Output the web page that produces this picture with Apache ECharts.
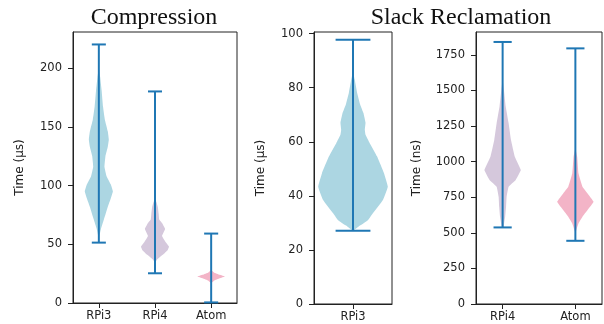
<!DOCTYPE html>
<html>
<head>
<meta charset="utf-8">
<script src="https://cdn.jsdelivr.net/npm/echarts@6/dist/echarts.min.js"></script>
<style>
  html, body { margin: 0; padding: 0; background: #fff; }
  #chart { width: 604px; height: 324px; }
</style>
</head>
<body>
<div id="chart"></div>
<script>
// Compression panel (time in us)
const compCategories = ["RPi3", "RPi4", "Atom"]
const compRanges = [[51.4, 220.1], [25.3, 180.1], [0.5, 59.1]]
const compRPi3Levels = [52, 57, 63, 71, 82, 89, 95, 101, 108, 116, 125, 133, 139, 146, 156, 167, 181, 192, 200]
const compRPi3Density = [0, 0.04, 0.15, 0.36, 0.64, 0.85, 1.0, 0.85, 0.55, 0.4, 0.47, 0.64, 0.71, 0.64, 0.43, 0.3, 0.2, 0.1, 0]
const compRPi4Levels = [34, 37, 41, 45, 48, 52, 57, 63, 68, 71, 76, 82, 86, 89]
const compRPi4Density = [0, 0.15, 0.55, 0.9, 1.0, 0.75, 0.5, 0.72, 0.5, 0.3, 0.26, 0.2, 0.1, 0]
const compAtomLevels = [17, 19, 21, 22.5, 24, 26, 28]
const compAtomDensity = [0, 0.2, 0.6, 1.0, 0.6, 0.2, 0]

// Slack Reclamation, RPi3 (time in us)
const slackUsCategories = ["RPi3"]
const slackUsRanges = [[27.1, 97.7]]
const slackRPi3Levels = [27, 29, 31, 33.6, 38.5, 43.4, 48.4, 54.6, 59.5, 62.6, 64.4, 67, 70.6, 74, 78, 83, 86]
const slackRPi3Density = [0, 0.2, 0.43, 0.57, 0.86, 1.0, 0.89, 0.69, 0.48, 0.36, 0.34, 0.36, 0.3, 0.2, 0.12, 0.05, 0]

// Slack Reclamation, RPi4 / Atom (time in ns)
const slackNsCategories = ["RPi4", "Atom"]
const slackNsRanges = [[538, 1841], [444, 1796]]
const slackRPi4Levels = [540, 566, 613, 683, 753, 824, 871, 941, 1035, 1153, 1270, 1387, 1505, 1580]
const slackRPi4Density = [0.05, 0.08, 0.14, 0.19, 0.22, 0.33, 0.72, 1.0, 0.67, 0.46, 0.33, 0.17, 0.07, 0]
const slackAtomLevels = [500, 519, 566, 613, 660, 718, 777, 824, 918, 1035, 1095]
const slackAtomDensity = [0, 0.05, 0.17, 0.39, 0.67, 1.0, 0.67, 0.39, 0.17, 0.1, 0]

const compTicks = [0, 50, 100, 150, 200]
const slackUsTicks = [0, 20, 40, 60, 80, 100]
const slackNsTicks = [0, 250, 500, 750, 1000, 1250, 1500, 1750]

const BLUE = "#acd6e2"
const LAVENDER = "#d5c8dc"
const PINK = "#f3b4c7"
const LINE = "#1f77b4"
const HALF = 0.25 // max half width of a violin, in x units
const CAP = 0.125

const chart = echarts.init(document.getElementById("chart"), null, { renderer: "canvas" })

function violin(gridIndex, pos, levels, density, color) {
  return {
    type: "custom",
    xAxisIndex: gridIndex,
    yAxisIndex: gridIndex,
    data: levels.map((v, i) => [pos, v, density[i]]),
    renderItem: (params, api) => {
      if (params.dataIndex !== 0) return
      const right = levels.map((v, i) => api.coord([pos + density[i] * HALF, v]))
      const left = levels.map((v, i) => api.coord([pos - density[i] * HALF, v])).reverse()
      return {
        type: "polygon",
        shape: { points: right.concat(left), smooth: 0.08 },
        style: { fill: color },
      }
    },
    z: 2,
  }
}

function whiskers(gridIndex, ranges) {
  return {
    type: "custom",
    xAxisIndex: gridIndex,
    yAxisIndex: gridIndex,
    data: ranges.map((r, i) => [i + 1, r[0], r[1]]),
    renderItem: (params, api) => {
      const x = api.value(0)
      const lo = api.value(1)
      const hi = api.value(2)
      const style = { stroke: LINE, lineWidth: 2 }
      const seg = (a, b) => ({
        type: "line",
        shape: { x1: a[0], y1: a[1], x2: b[0], y2: b[1] },
        style,
      })
      return {
        type: "group",
        children: [
          seg(api.coord([x, lo]), api.coord([x, hi])),
          seg(api.coord([x - CAP, lo]), api.coord([x + CAP, lo])),
          seg(api.coord([x - CAP, hi]), api.coord([x + CAP, hi])),
        ],
      }
    },
    z: 3,
  }
}

const tickFont = { color: "#222", fontFamily: "DejaVu Sans", fontSize: 11.5 }

function xAxis(gridIndex, cats, min, max) {
  const pos = cats.map((c, i) => i + 1)
  return {
    type: "value",
    gridIndex,
    min,
    max,
    axisLine: { show: true, lineStyle: { color: "#222", width: 1 } },
    axisTick: { show: true, length: 5, customValues: pos, lineStyle: { color: "#222" } },
    axisLabel: { ...tickFont, margin: 7, customValues: pos, formatter: (v) => cats[Math.round(v) - 1] },
    splitLine: { show: false },
  }
}

function yAxis(gridIndex, ticks, max, name, nameGap) {
  return {
    type: "value",
    gridIndex,
    min: 0,
    max,
    name,
    nameLocation: "middle",
    nameGap,
    nameTextStyle: { color: "#222", fontFamily: "DejaVu Sans", fontSize: 12 },
    axisLine: { show: true, lineStyle: { color: "#222", width: 1 } },
    axisTick: { show: true, length: 5, customValues: ticks, lineStyle: { color: "#222" } },
    axisLabel: { ...tickFont, margin: 11, customValues: ticks, formatter: (v) => String(v) },
    splitLine: { show: false },
  }
}

const frame = { show: true, borderColor: "#222", borderWidth: 1, backgroundColor: "transparent" }

const option = {
  animation: false,
  backgroundColor: "#fff",
  graphic: [
    {
      type: "text", x: 154, y: 18,
      style: { text: "Compression", fill: "#111", font: '24px "Liberation Serif"', textAlign: "center", textVerticalAlign: "middle" },
    },
    {
      type: "text", x: 461, y: 18,
      style: { text: "Slack Reclamation", fill: "#111", font: '24px "Liberation Serif"', textAlign: "center", textVerticalAlign: "middle" },
    },
  ],
  grid: [
    { left: 73, top: 32, width: 164, height: 271, ...frame },
    { left: 314, top: 32, width: 78, height: 272, ...frame },
    { left: 476, top: 32, width: 126, height: 272, ...frame },
  ],
  xAxis: [
    xAxis(0, compCategories, 0.54, 3.46),
    xAxis(1, slackUsCategories, 0.72, 1.28),
    xAxis(2, slackNsCategories, 0.634, 2.366),
  ],
  yAxis: [
    yAxis(0, compTicks, 230.7, "Time (μs)", 47),
    yAxis(1, slackUsTicks, 100.6, "Time (μs)", 47),
    yAxis(2, slackNsTicks, 1911, "Time (ns)", 53),
  ],
  series: [
    violin(0, 1, compRPi3Levels, compRPi3Density, BLUE),
    violin(0, 2, compRPi4Levels, compRPi4Density, LAVENDER),
    violin(0, 3, compAtomLevels, compAtomDensity, PINK),
    whiskers(0, compRanges),
    violin(1, 1, slackRPi3Levels, slackRPi3Density, BLUE),
    whiskers(1, slackUsRanges),
    violin(2, 1, slackRPi4Levels, slackRPi4Density, LAVENDER),
    violin(2, 2, slackAtomLevels, slackAtomDensity, PINK),
    whiskers(2, slackNsRanges),
  ],
}

chart.setOption(option)
</script>
</body>
</html>
